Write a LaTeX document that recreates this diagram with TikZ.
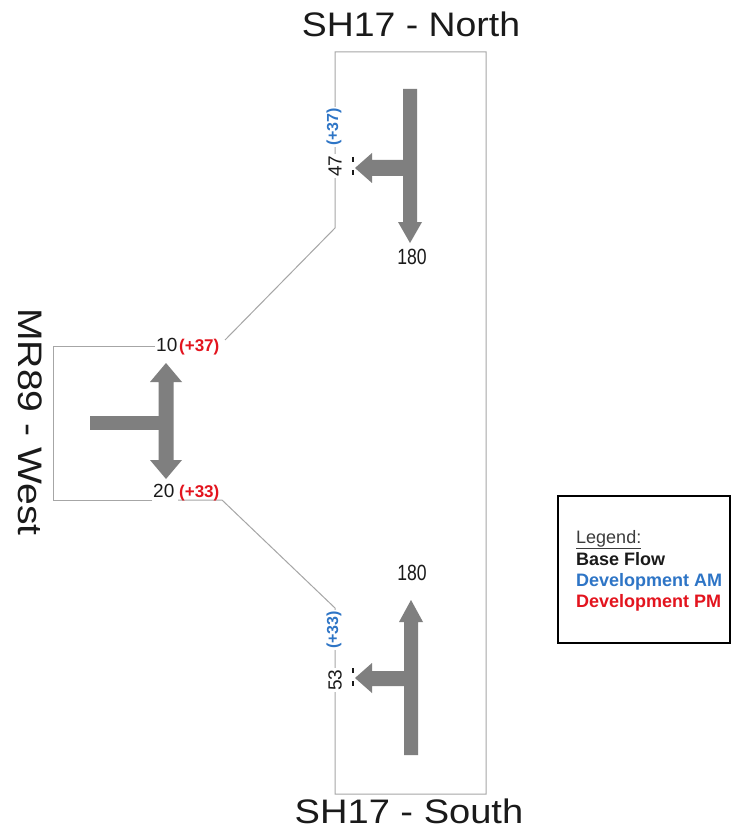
\documentclass[tikz,border=0pt]{standalone}
\usepackage{fontspec}
\setmainfont{Liberation Sans}
\definecolor{flowgray}{HTML}{7F7F7F}
\definecolor{boxgray}{HTML}{A6A6A6}
\definecolor{devblue}{HTML}{2E75C6}
\definecolor{devred}{HTML}{E3141E}
\definecolor{ink}{HTML}{1A1A1A}
\newcommand{\fsz}[1]{\fontsize{#1}{#1}\selectfont}
\tikzset{
  boxline/.style={draw=boxgray, line width=1pt, line join=miter},
  flow/.style={fill=flowgray, draw=none},
  roadlabel/.style={font=\fsz{34}, text=ink, inner sep=0pt},
  basenum/.style={font=\fsz{19}, text=ink, inner sep=1pt},
  bignum/.style={font=\fsz{22}, text=ink, inner sep=0pt},
  amnum/.style={font=\bfseries\fsz{16}, text=devblue, inner sep=1pt},
  pmnum/.style={font=\bfseries\fsz{17}, text=devred, inner sep=0pt},
  legendtext/.style={font=\bfseries\fsz{18}, inner sep=0pt, anchor=base west},
  tick/.style={draw=ink, line width=1.3pt}
}
\begin{document}
\begin{tikzpicture}[x=1pt, y=-1pt]
\useasboundingbox[fill=white] (0,0) rectangle (733,837);

% ---- outline of the junction approaches
\coordinate (nTL) at (335,52);
\coordinate (nTR) at (486,52);
\coordinate (sBR) at (486,794);
\coordinate (sBL) at (335,794);
\coordinate (nKnee) at (335,228);
\coordinate (sKnee) at (335,608);
\coordinate (wTopEnd) at (225,340);
\coordinate (wBotEnd) at (222,500);
\draw[boxline] (nKnee) -- (nTL) -- (nTR) -- (sBR) -- (sBL) -- (sKnee) -- (wBotEnd) -- (178,500);
\draw[boxline] (152,500) -- (53,500) -- (53,346) -- (155,346);
\draw[boxline] (wTopEnd) -- (nKnee);

% ---- North approach arrows
\fill[flow] (403,89) -- (417,89) -- (417,222) -- (422,222) -- (410,243) -- (398,222) -- (403,222) -- cycle;
\fill[flow] (410,160) -- (372,160) -- (372,153) -- (355,168) -- (372,183) -- (372,176) -- (410,176) -- cycle;

% ---- West approach arrows
\fill[flow] (158.5,382) -- (150,382) -- (166,363) -- (182,382) -- (173.5,382) -- (173.5,460) -- (182,460) -- (166,479) -- (150,460) -- (158.5,460) -- cycle;
\fill[flow] (90,416) -- (166,416) -- (166,430) -- (90,430) -- cycle;

% ---- South approach arrows
\fill[flow] (404,755) -- (418,755) -- (418,622) -- (423,622) -- (411,600) -- (399,622) -- (404,622) -- cycle;
\fill[flow] (411,671) -- (372,671) -- (372,663) -- (355,678) -- (372,693) -- (372,686) -- (411,686) -- cycle;

% ---- small marks at the left-turn arrow tips
\draw[tick] (353,157) -- (353,162);
\draw[tick] (353,170) -- (353,175);
\draw[tick] (353,668) -- (353,673);
\draw[tick] (353,681) -- (353,686);

% ---- road names
\node[roadlabel, anchor=base] (north) at (411,37) {\scalebox{1.1}[1]{SH17 - North}};
\node[roadlabel, anchor=base] (south) at (409,823) {\scalebox{1.12}[1]{SH17 - South}};
\node[roadlabel, rotate=-90] (west) at (30,422) {\scalebox{1.15}[1]{MR89 - West}};

% ---- flows on the north approach
\node[basenum, fill=white, rotate=90] (n47) at (335,166) {47};
\node[amnum, fill=white, rotate=90] (n37) at (334,127) {(+37)};
\node[bignum, anchor=base] (n180) at (412,264) {\scalebox{0.8}[1]{180}};

% ---- flows on the west approach
\node[basenum, anchor=base west, inner sep=0pt] (w10) at (156,351) {10};
\node[pmnum, anchor=base west] (w37) at (179,351) {(+37)};
\node[basenum, anchor=base west, inner sep=0pt] (w20) at (153,497) {20};
\node[pmnum, anchor=base west] (w33) at (179,497) {(+33)};

% ---- flows on the south approach
\node[bignum, anchor=base] (s180) at (412,580) {\scalebox{0.8}[1]{180}};
\node[basenum, fill=white, rotate=90] (s53) at (335,680) {53};
\node[amnum, fill=white, rotate=90] (s33) at (334,630) {(+33)};

% ---- legend
\node[draw=black, line width=2pt, minimum width=172pt, minimum height=147pt, anchor=north west, inner sep=0pt] (legend) at (557,495) {};
\node[legendtext, font=\fsz{18}, text=ink!85] (lgTitle) at (576,543) {\underline{Legend:}};
\node[legendtext, text=ink] (lgBase) at (576,565) {Base Flow};
\node[legendtext, text=devblue] (lgAM) at (576,586) {Development AM};
\node[legendtext, text=devred] (lgPM) at (576,607) {Development PM};
\end{tikzpicture}
\end{document}
